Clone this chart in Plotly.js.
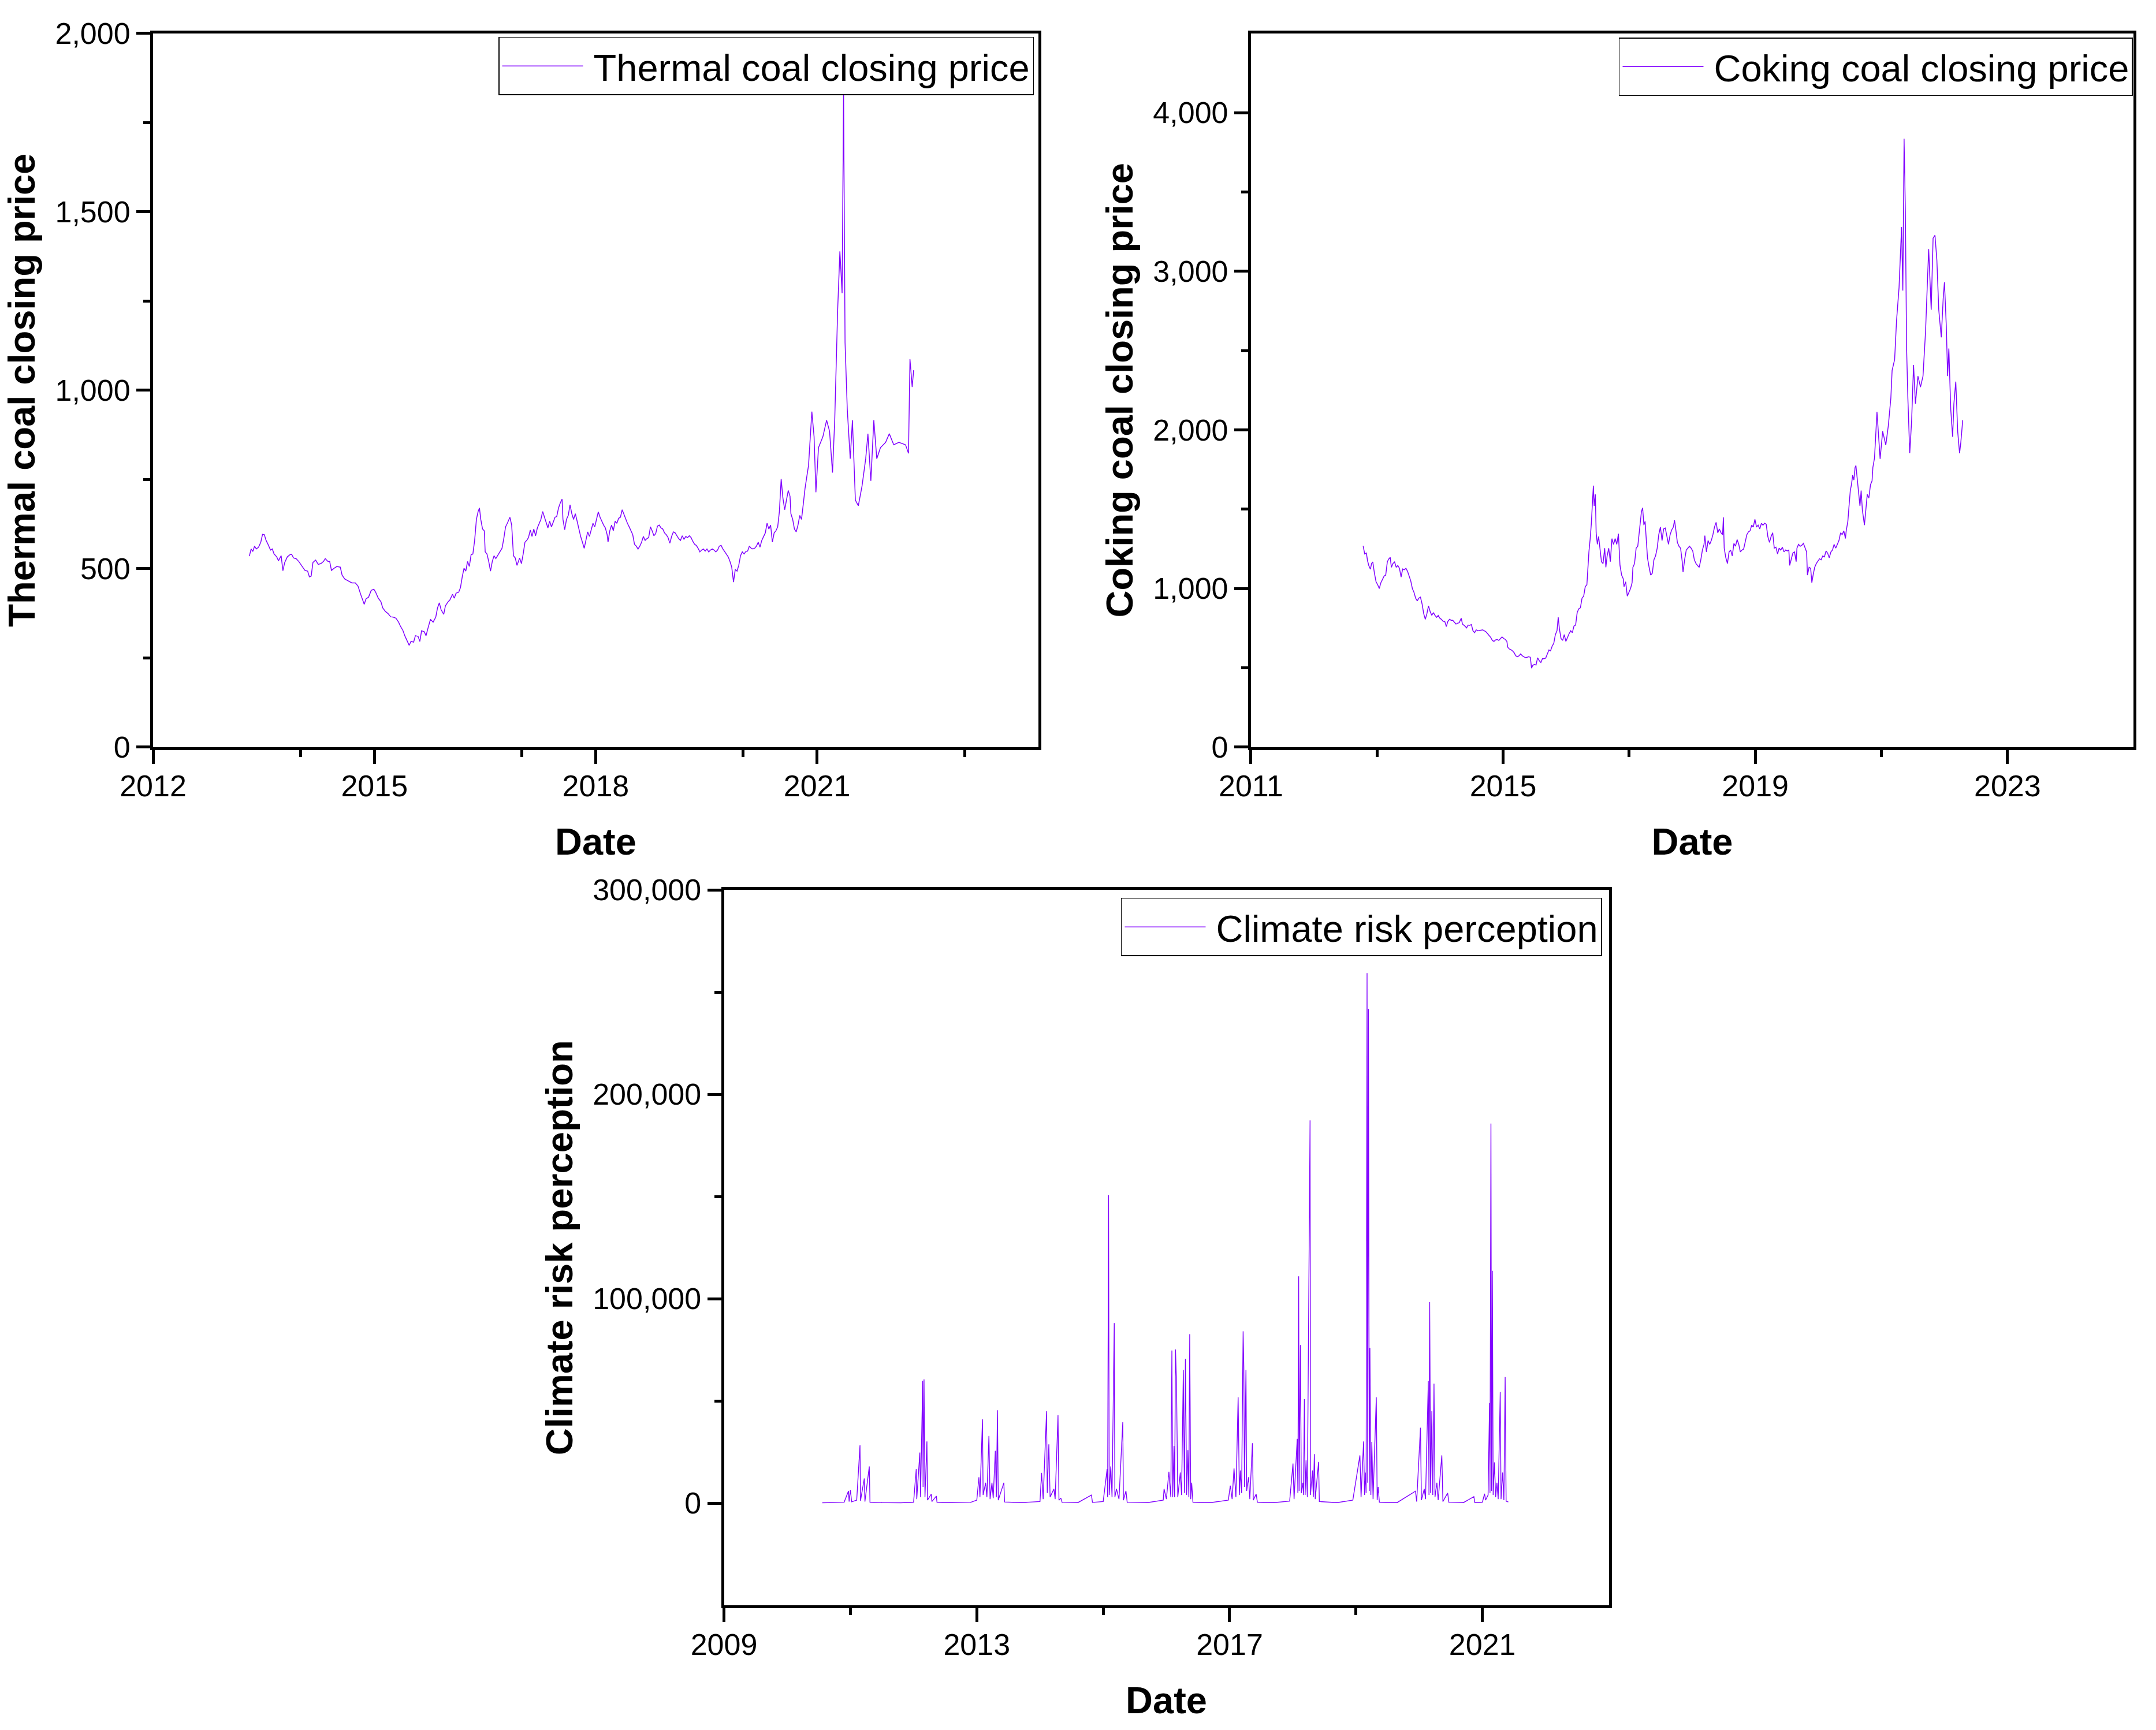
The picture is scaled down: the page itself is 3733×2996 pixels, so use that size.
<!DOCTYPE html>
<html>
<head>
<meta charset="utf-8">
<script src="https://cdn.plot.ly/plotly-3.0.1.min.js"></script>
<style>html,body{margin:0;padding:0;background:#fff;}#chart{width:3733px;height:2996px;}</style>
</head>
<body>
<div id="chart"></div>
<script>
// ---- Thermal coal closing price (decimal year, price) ----
const thermalYear = [2013.305,2013.329,2013.352,2013.376,2013.400,2013.430,2013.460,2013.484,2013.508,2013.532,2013.556,2013.592,2013.616,2013.640,2013.676,2013.700,2013.736,2013.760,2013.784,2013.820,2013.855,2013.879,2013.903,2013.939,2013.975,2014.011,2014.059,2014.095,2014.119,2014.143,2014.167,2014.203,2014.239,2014.275,2014.310,2014.334,2014.370,2014.394,2014.418,2014.454,2014.490,2014.538,2014.562,2014.598,2014.646,2014.694,2014.742,2014.778,2014.814,2014.838,2014.862,2014.886,2014.921,2014.957,2014.993,2015.017,2015.053,2015.089,2015.113,2015.149,2015.185,2015.221,2015.257,2015.292,2015.328,2015.352,2015.388,2015.412,2015.436,2015.472,2015.496,2015.532,2015.556,2015.592,2015.616,2015.640,2015.676,2015.700,2015.724,2015.760,2015.796,2015.832,2015.856,2015.880,2015.904,2015.940,2015.963,2015.999,2016.023,2016.059,2016.083,2016.107,2016.143,2016.167,2016.191,2016.215,2016.239,2016.263,2016.287,2016.311,2016.335,2016.359,2016.383,2016.406,2016.424,2016.442,2016.466,2016.490,2016.502,2016.526,2016.550,2016.574,2016.598,2016.622,2016.646,2016.670,2016.706,2016.730,2016.754,2016.778,2016.802,2016.837,2016.861,2016.885,2016.909,2016.933,2016.969,2016.993,2017.017,2017.041,2017.065,2017.089,2017.113,2017.137,2017.161,2017.185,2017.209,2017.233,2017.257,2017.281,2017.305,2017.329,2017.352,2017.376,2017.400,2017.424,2017.448,2017.472,2017.496,2017.520,2017.544,2017.556,2017.580,2017.604,2017.628,2017.652,2017.676,2017.700,2017.724,2017.748,2017.772,2017.796,2017.820,2017.844,2017.867,2017.891,2017.915,2017.939,2017.963,2017.987,2018.011,2018.035,2018.059,2018.083,2018.107,2018.131,2018.155,2018.167,2018.191,2018.215,2018.239,2018.263,2018.287,2018.311,2018.335,2018.359,2018.383,2018.406,2018.430,2018.454,2018.478,2018.502,2018.526,2018.550,2018.574,2018.598,2018.622,2018.646,2018.670,2018.694,2018.718,2018.742,2018.765,2018.789,2018.813,2018.837,2018.861,2018.885,2018.909,2018.933,2018.957,2018.981,2019.005,2019.029,2019.053,2019.077,2019.101,2019.125,2019.149,2019.173,2019.197,2019.221,2019.245,2019.269,2019.293,2019.317,2019.341,2019.364,2019.388,2019.412,2019.436,2019.460,2019.484,2019.508,2019.532,2019.556,2019.580,2019.604,2019.628,2019.652,2019.676,2019.700,2019.724,2019.748,2019.772,2019.796,2019.820,2019.844,2019.868,2019.892,2019.916,2019.939,2019.963,2019.987,2020.011,2020.035,2020.059,2020.083,2020.107,2020.131,2020.155,2020.179,2020.203,2020.227,2020.251,2020.275,2020.299,2020.323,2020.347,2020.371,2020.395,2020.419,2020.443,2020.467,2020.490,2020.514,2020.538,2020.562,2020.586,2020.610,2020.634,2020.646,2020.670,2020.694,2020.718,2020.742,2020.766,2020.790,2020.814,2020.837,2020.861,2020.885,2020.93,2020.96,2020.985,2021.02,2021.08,2021.13,2021.17,2021.21,2021.24,2021.28,2021.31,2021.34,2021.36,2021.38,2021.41,2021.45,2021.48,2021.52,2021.56,2021.61,2021.66,2021.69,2021.73,2021.77,2021.81,2021.86,2021.93,2021.98,2022.04,2022.11,2022.20,2022.24,2022.26,2022.29,2022.31];
const thermalPrice = [535,555,548,563,555,560,574,596,595,579,569,552,555,541,533,522,536,494,517,533,539,540,530,528,520,509,495,493,477,479,517,524,512,514,520,528,520,520,495,501,506,504,482,471,466,460,460,451,428,415,400,415,420,439,442,434,417,407,390,380,374,365,364,361,350,339,326,312,302,285,296,294,312,310,296,326,323,312,331,358,350,364,390,404,385,372,396,407,412,428,417,431,434,447,477,501,493,520,506,539,541,579,638,660,670,638,611,606,547,541,520,493,520,536,528,536,547,557,584,617,627,644,622,536,530,509,530,514,541,574,579,587,608,590,611,592,614,627,638,660,644,627,614,633,617,630,644,646,670,684,695,638,609,638,649,679,654,638,654,633,611,590,574,557,579,603,590,611,627,617,638,659,644,633,622,614,595,574,606,622,606,633,627,641,644,665,652,638,627,617,606,595,568,563,555,563,574,590,579,584,587,617,606,592,598,619,622,614,611,600,595,587,571,590,603,600,592,584,579,592,582,590,587,592,587,576,568,565,557,547,552,555,549,555,547,552,555,552,547,552,563,565,555,547,541,533,520,504,462,498,493,509,536,547,541,548,549,563,557,555,557,563,574,560,579,590,600,627,611,622,574,600,606,617,660,751,697,665,692,719,703,654,638,611,603,622,649,638,681,724,757,789,940,870,714,839,870,916,885,769,916,1226,1389,1272,1830,1133,947,808,916,692,676,731,808,878,746,916,808,839,854,878,847,854,847,823,1087,1009,1056];

// ---- Coking coal closing price ----
const cokingYear = [2012.780,2012.805,2012.831,2012.850,2012.869,2012.895,2012.914,2012.933,2012.959,2012.985,2013.010,2013.036,2013.061,2013.087,2013.113,2013.138,2013.164,2013.189,2013.209,2013.228,2013.253,2013.279,2013.305,2013.330,2013.356,2013.382,2013.407,2013.433,2013.459,2013.484,2013.510,2013.535,2013.561,2013.587,2013.612,2013.638,2013.664,2013.689,2013.715,2013.740,2013.766,2013.792,2013.817,2013.843,2013.869,2013.894,2013.920,2013.946,2013.971,2013.997,2014.022,2014.048,2014.074,2014.099,2014.125,2014.151,2014.176,2014.202,2014.227,2014.253,2014.279,2014.304,2014.336,2014.356,2014.394,2014.420,2014.445,2014.471,2014.497,2014.522,2014.548,2014.574,2014.599,2014.625,2014.650,2014.676,2014.702,2014.727,2014.753,2014.778,2014.804,2014.830,2014.855,2014.881,2014.907,2014.932,2014.958,2014.983,2015.009,2015.035,2015.060,2015.073,2015.099,2015.124,2015.150,2015.176,2015.201,2015.227,2015.253,2015.278,2015.304,2015.330,2015.355,2015.381,2015.406,2015.432,2015.451,2015.471,2015.496,2015.522,2015.547,2015.573,2015.599,2015.624,2015.650,2015.676,2015.701,2015.727,2015.752,2015.778,2015.804,2015.829,2015.855,2015.874,2015.893,2015.919,2015.945,2015.970,2015.996,2016.021,2016.047,2016.073,2016.098,2016.124,2016.150,2016.175,2016.201,2016.226,2016.252,2016.278,2016.303,2016.329,2016.342,2016.361,2016.380,2016.400,2016.419,2016.432,2016.444,2016.463,2016.476,2016.495,2016.515,2016.534,2016.560,2016.585,2016.611,2016.630,2016.650,2016.675,2016.701,2016.726,2016.752,2016.777,2016.803,2016.829,2016.842,2016.854,2016.880,2016.906,2016.918,2016.944,2016.970,2016.995,2017.021,2017.046,2017.059,2017.085,2017.110,2017.136,2017.155,2017.175,2017.194,2017.213,2017.233,2017.252,2017.271,2017.290,2017.316,2017.341,2017.367,2017.392,2017.418,2017.444,2017.469,2017.495,2017.521,2017.546,2017.572,2017.597,2017.623,2017.649,2017.674,2017.700,2017.719,2017.738,2017.764,2017.790,2017.815,2017.841,2017.854,2017.879,2017.905,2017.931,2017.956,2017.982,2018.008,2018.033,2018.059,2018.084,2018.110,2018.136,2018.161,2018.187,2018.200,2018.225,2018.251,2018.277,2018.302,2018.328,2018.353,2018.379,2018.405,2018.430,2018.456,2018.481,2018.494,2018.507,2018.533,2018.558,2018.584,2018.609,2018.635,2018.661,2018.686,2018.712,2018.738,2018.763,2018.789,2018.815,2018.840,2018.866,2018.892,2018.917,2018.943,2018.968,2018.994,2019.020,2019.045,2019.071,2019.097,2019.122,2019.148,2019.173,2019.199,2019.225,2019.250,2019.276,2019.301,2019.327,2019.353,2019.378,2019.404,2019.430,2019.455,2019.481,2019.507,2019.532,2019.545,2019.571,2019.596,2019.622,2019.648,2019.661,2019.686,2019.712,2019.737,2019.763,2019.789,2019.814,2019.827,2019.853,2019.878,2019.897,2019.917,2019.942,2019.968,2019.994,2020.019,2020.045,2020.070,2020.096,2020.122,2020.147,2020.173,2020.199,2020.224,2020.250,2020.276,2020.301,2020.327,2020.353,2020.378,2020.404,2020.430,2020.442,2020.468,2020.487,2020.507,2020.525,2020.545,2020.564,2020.583,2020.596,2020.615,2020.634,2020.660,2020.679,2020.698,2020.731,2020.750,2020.776,2020.801,2020.827,2020.852,2020.865,2020.891,2020.93,2020.98,2021.02,2021.07,2021.11,2021.15,2021.17,2021.21,2021.24,2021.28,2021.32,2021.34,2021.36,2021.38,2021.40,2021.42,2021.45,2021.48,2021.51,2021.54,2021.58,2021.62,2021.66,2021.70,2021.73,2021.75,2021.79,2021.82,2021.85,2021.88,2021.91,2021.95,2021.98,2022.00,2022.03,2022.05,2022.07,2022.10,2022.13,2022.15,2022.18,2022.21,2022.24,2022.26,2022.29];
const cokingPrice = [1268,1217,1223,1175,1145,1121,1157,1167,1096,1042,1024,999,1036,1060,1078,1084,1169,1187,1196,1133,1157,1167,1133,1145,1127,1072,1123,1118,1127,1108,1078,1048,999,975,939,921,939,945,902,842,805,842,890,854,830,848,830,818,830,812,805,793,793,760,793,805,799,799,787,775,781,784,812,775,763,751,769,767,772,733,721,739,733,735,739,739,733,727,715,703,691,672,666,675,678,672,682,694,685,678,666,630,618,614,606,594,575,569,575,587,575,569,563,566,569,566,497,515,521,517,563,545,533,557,557,561,587,612,606,636,654,709,733,818,745,684,672,709,666,691,715,733,721,763,769,848,872,878,939,951,1011,1024,1121,1230,1308,1411,1557,1648,1520,1593,1351,1278,1327,1254,1169,1157,1254,1133,1205,1254,1169,1314,1278,1314,1278,1345,1230,1145,1084,1060,1011,1042,951,975,999,1036,1133,1157,1254,1266,1339,1399,1484,1508,1399,1423,1302,1193,1133,1084,1096,1181,1205,1254,1339,1387,1302,1375,1381,1327,1278,1339,1369,1387,1429,1375,1290,1266,1254,1169,1102,1181,1242,1254,1266,1254,1236,1181,1157,1145,1133,1181,1242,1278,1333,1230,1302,1278,1302,1339,1387,1417,1351,1375,1351,1339,1448,1254,1193,1157,1230,1242,1205,1284,1266,1308,1278,1230,1242,1248,1290,1339,1357,1363,1399,1387,1436,1387,1399,1375,1411,1399,1411,1405,1327,1290,1327,1351,1254,1260,1217,1254,1242,1260,1230,1242,1236,1242,1145,1181,1223,1230,1169,1254,1278,1266,1272,1284,1254,1230,1084,1133,1127,1036,1084,1133,1157,1175,1187,1181,1205,1199,1236,1223,1193,1230,1242,1278,1254,1278,1302,1351,1339,1363,1315,1363,1423,1520,1617,1654,1714,1684,1763,1775,1690,1629,1520,1617,1496,1399,1484,1593,1569,1654,1678,1763,1823,2113,1817,1991,1904,2026,2200,2374,2443,2687,2896,3279,2878,3836,3383,2513,2200,1852,2061,2409,2165,2339,2270,2339,2617,2896,3140,2757,3209,3227,3070,2757,2583,2826,2931,2652,2339,2513,2130,1956,2165,2304,1991,1852,1921,2061];

// ---- Climate risk perception ----
const climateYear = [2010.555,2010.90,2010.97,2010.98,2011.00,2011.02,2011.10,2011.152,2011.16,2011.22,2011.23,2011.299,2011.31,2011.50,2011.80,2012.00,2012.042,2012.05,2012.099,2012.11,2012.144,2012.15,2012.165,2012.18,2012.211,2012.22,2012.28,2012.29,2012.36,2012.37,2012.60,2012.90,2013.00,2013.034,2013.05,2013.090,2013.10,2013.14,2013.16,2013.192,2013.21,2013.24,2013.26,2013.293,2013.31,2013.327,2013.34,2013.428,2013.44,2013.70,2014.00,2014.025,2014.05,2014.104,2014.115,2014.14,2014.16,2014.22,2014.24,2014.285,2014.30,2014.33,2014.35,2014.60,2014.814,2014.83,2015.00,2015.062,2015.07,2015.085,2015.095,2015.12,2015.14,2015.175,2015.185,2015.21,2015.25,2015.310,2015.32,2015.36,2015.38,2015.70,2015.95,2015.963,2016.00,2016.04,2016.07,2016.087,2016.10,2016.12,2016.13,2016.144,2016.16,2016.18,2016.22,2016.24,2016.268,2016.285,2016.301,2016.32,2016.34,2016.355,2016.369,2016.385,2016.40,2016.42,2016.70,2016.98,2017.011,2017.04,2017.07,2017.10,2017.135,2017.155,2017.17,2017.19,2017.214,2017.225,2017.235,2017.259,2017.27,2017.30,2017.32,2017.361,2017.375,2017.42,2017.44,2017.70,2017.95,2018.003,2018.02,2018.07,2018.08,2018.093,2018.10,2018.12,2018.135,2018.16,2018.17,2018.183,2018.195,2018.21,2018.23,2018.273,2018.28,2018.31,2018.325,2018.341,2018.355,2018.408,2018.42,2018.70,2018.95,2019.062,2019.08,2019.12,2019.135,2019.15,2019.16,2019.175,2019.185,2019.197,2019.21,2019.220,2019.235,2019.25,2019.27,2019.321,2019.335,2019.35,2019.37,2019.65,2019.941,2019.96,2020.020,2020.035,2020.08,2020.10,2020.144,2020.155,2020.166,2020.18,2020.20,2020.215,2020.234,2020.25,2020.28,2020.30,2020.358,2020.375,2020.45,2020.47,2020.70,2020.865,2020.88,2021.00,2021.034,2021.05,2021.09,2021.113,2021.12,2021.135,2021.145,2021.158,2021.17,2021.19,2021.21,2021.23,2021.25,2021.282,2021.295,2021.32,2021.34,2021.360,2021.375,2021.41];
const climateIndex = [200,400,6000,800,6500,700,1500,28300,1200,12100,800,18000,500,300,200,500,16700,2000,24800,3000,59800,8000,60600,3000,30200,1500,4500,800,3500,500,300,400,1500,12700,3000,41000,4000,10000,3000,32900,2000,10000,2500,25600,3000,45500,1500,10000,600,300,800,14800,2000,45000,5000,28800,3000,7000,2000,43100,1500,2500,400,300,4000,400,800,16700,3000,150700,4000,18000,3000,88100,3000,7000,2000,39600,1500,6000,400,300,1500,7000,2000,15400,3000,74700,3000,28000,3000,75200,58500,3000,15000,4000,65200,5000,70600,4000,26000,3000,82700,2000,10000,500,300,1500,8600,2000,17000,3000,51800,4000,16000,5000,84100,66600,8000,65200,6000,12700,2000,29400,1500,4500,500,300,1000,19400,2000,31500,5000,111000,6000,77400,5000,10000,4000,50900,4000,21000,3000,187300,4000,16000,3000,24000,2000,20200,800,300,1500,23400,3000,30200,4000,15000,5000,259300,10000,241800,6000,76000,4000,30000,2000,51800,1500,8000,500,300,5900,800,36900,1500,7000,2000,59800,4000,98400,5000,45000,4000,58500,3000,10000,1500,23400,800,5000,400,300,3200,300,500,4600,1500,4000,49000,5000,185700,6000,113700,4000,20000,3000,10000,2000,54400,2000,15000,1500,61700,1000,600];

// ---- Axis ticks ----
const x1Ticks = [2012, 2015, 2018, 2021];
const x1Minor = [2014, 2017, 2020, 2023];
const y1Ticks = [0, 500, 1000, 1500, 2000];
const y1Minor = [250, 750, 1250, 1750];
const x2Ticks = [2011, 2015, 2019, 2023];
const x2Minor = [2013, 2017, 2021];
const y2Ticks = [0, 1000, 2000, 3000, 4000];
const y2Minor = [500, 1500, 2500, 3500];
const x3Ticks = [2009, 2013, 2017, 2021];
const x3Minor = [2011, 2015, 2019];
const y3Ticks = [0, 100000, 200000, 300000];
const y3Minor = [50000, 150000, 250000];

const FONT = 'Liberation Sans, Arial, sans-serif';
const PURPLE = '#8000ff';
const GAP = '\u2009';

function axis(ticks, minor, range, title, standoff, fmt, isX) {
  const a = {
    range: range, autorange: false,
    tickmode: 'array', tickvals: ticks,
    showline: true, linecolor: 'black', linewidth: 5, mirror: true,
    ticks: 'outside', ticklen: 24, tickwidth: 5, tickcolor: 'black',
    showgrid: false, zeroline: false,
    tickfont: {family: FONT, size: 52, color: 'black'},
    minor: {tickmode: 'array', tickvals: minor, ticks: 'outside', ticklen: 12, tickwidth: 5, tickcolor: 'black', showgrid: false},
    title: {text: title, standoff: standoff, font: {family: FONT, size: 65, color: 'black', weight: 'bold'}},
    automargin: false
  };
  if (fmt) { a.tickformat = fmt; } else { a.ticktext = ticks.map(String); }
  if (isX) { a.ticklabelstandoff = -6; }
  return a;
}

const traces = [
  {x: thermalYear, y: thermalPrice, type: 'scatter', mode: 'lines', name: GAP + 'Thermal coal closing price',
   line: {color: PURPLE, width: 1.5}, xaxis: 'x', yaxis: 'y', legend: 'legend'},
  {x: cokingYear, y: cokingPrice, type: 'scatter', mode: 'lines', name: GAP + 'Coking coal closing price',
   line: {color: PURPLE, width: 1.5}, xaxis: 'x2', yaxis: 'y2', legend: 'legend2'},
  {x: climateYear, y: climateIndex, type: 'scatter', mode: 'lines', name: GAP + 'Climate risk perception',
   line: {color: PURPLE, width: 1.4}, xaxis: 'x3', yaxis: 'y3', legend: 'legend3'}
];

function legendAt(x, y) {
  return {x: x, y: y, xanchor: 'right', yanchor: 'top', xref: 'paper', yref: 'paper',
    bgcolor: 'white', bordercolor: 'black', borderwidth: 1.5,
    font: {family: FONT, size: 65, color: 'black'}, itemwidth: 140};
}

const layout = {
  width: 3733, height: 2996,
  margin: {l: 0, r: 0, t: 0, b: 0},
  paper_bgcolor: 'white', plot_bgcolor: 'white',
  showlegend: true,
  xaxis: Object.assign(axis(x1Ticks, x1Minor, [2012, 2024], 'Date', 47, null, true), {domain: [0.07100, 0.48160], anchor: 'y'}),
  yaxis: Object.assign(axis(y1Ticks, y1Minor, [0, 2000], 'Thermal coal closing price', 15, ',d', false), {domain: [0.56820, 0.98070], anchor: 'x'}),
  xaxis2: Object.assign(axis(x2Ticks, x2Minor, [2011, 2025], 'Date', 47, null, true), {domain: [0.58020, 0.98960], anchor: 'y2'}),
  yaxis2: Object.assign(axis(y2Ticks, y2Minor, [0, 4500], 'Coking coal closing price', 15, ',d', false), {domain: [0.56820, 0.98070], anchor: 'x2'}),
  xaxis3: Object.assign(axis(x3Ticks, x3Minor, [2009, 2023], 'Date', 47, null, true), {domain: [0.33580, 0.74620], anchor: 'y3'}),
  yaxis3: Object.assign(axis(y3Ticks, y3Minor, [-50000, 300000], 'Climate risk perception', 15, ',d', false), {domain: [0.07200, 0.48560], anchor: 'x3'}),
  legend: legendAt(0.47951, 0.97864),
  legend2: legendAt(0.98928, 0.97830),
  legend3: legendAt(0.74310, 0.48098)
};

Plotly.newPlot('chart', traces, layout, {staticPlot: true, displayModeBar: false});
</script>
</body>
</html>
